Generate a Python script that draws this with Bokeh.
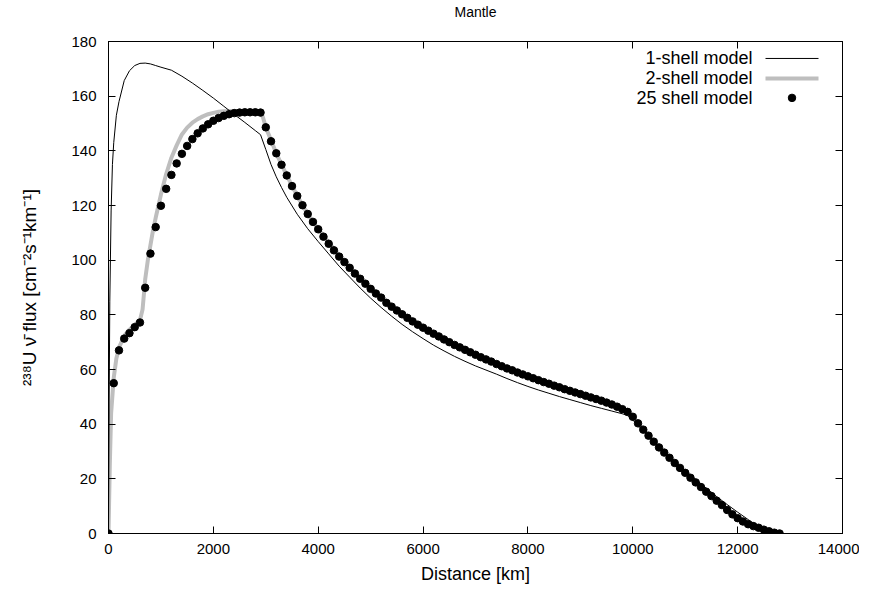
from bokeh.plotting import figure
from bokeh.models import Range1d, FixedTicker, LinearAxis
from bokeh.core.properties import value
from bokeh.embed import file_html
from bokeh.resources import INLINE

# ---------------- data ----------------
x_ticks = [0, 2000, 4000, 6000, 8000, 10000, 12000, 14000]
y_ticks = [0, 20, 40, 60, 80, 100, 120, 140, 160, 180]

# 1-shell model
dist_1 = [0, 10, 25, 50, 75, 100, 150, 200, 300, 400, 500, 600, 700, 800, 900,
          1000, 1200, 1400, 1600, 1800, 2000, 2200, 2400, 2600, 2800, 2900, 3000,
          3100, 3200, 3300, 3400, 3600, 3800, 4000, 4200, 4400, 4600, 4800, 5000,
          5200, 5400, 5600, 5800, 6000, 6200, 6400, 6600, 6800, 7000, 7200, 7400,
          7600, 7800, 8000, 8200, 8400, 8600, 8800, 9000, 9200, 9400, 9600, 9800,
          9900, 10000, 10200, 10400, 10600, 10800, 11000, 11200, 11400, 11600,
          11800, 12000, 12200, 12400, 12600, 12742]
flux_1 = [0, 40, 85, 118, 135, 143, 153, 158, 165.7, 169.3, 171.2, 172.0, 172.1,
          171.8, 171.2, 170.6, 169.5, 167.3, 164.8, 162.1, 159.3, 156.3, 153.3,
          150.4, 147.4, 145.9, 140.5, 135.0, 130.5, 126.6, 123.0, 116.8, 111.5,
          106.8, 102.3, 97.8, 93.8, 89.8, 86.1, 82.7, 79.5, 76.5, 73.8, 71.3, 68.9,
          66.8, 64.8, 63.0, 61.3, 59.8, 58.3, 56.7, 55.2, 53.8, 52.5, 51.3, 50.1,
          49.0, 47.9, 46.8, 45.8, 44.8, 43.8, 43.2, 41.5, 37.6, 33.8, 30.0, 26.4,
          23.1, 19.8, 16.6, 13.5, 10.6, 7.8, 5.1, 2.6, 0.4, 0.0]

# 2-shell model
dist_2 = [0, 25, 50, 100, 150, 200, 300, 400, 500, 600, 650, 700, 750, 800, 850,
          900, 1000, 1100, 1200, 1300, 1400, 1500, 1600, 1700, 1800, 1900, 2000,
          2100, 2200, 2300, 2900, 2950, 3000, 3200, 3400, 3600, 3800, 4000, 4500,
          5000, 5500, 6000, 6500, 7000, 7500, 8000, 8500, 9000, 9500, 9800, 9900,
          10000, 10200, 10500, 11000, 11500, 12000, 12300, 12600, 12800]
flux_2 = [0, 25, 44, 57, 64, 68, 72.3, 74.6, 76.4, 78.0, 82, 93, 100, 105.5, 111,
          115.5, 124, 131.5, 137.5, 142, 146, 148.5, 150.3, 151.6, 152.6, 153.4,
          153.9, 154.3, 154.5, 154.6, 154.6, 152, 148.6, 139.1, 131.0, 123.5, 116.8,
          111.3, 99.3, 89.5, 81.6, 75.3, 70.0, 65.4, 61.2, 57.5, 54.1, 51.0, 47.9,
          45.5, 44.5, 42.7, 38.0, 31.5, 22.2, 13.7, 5.6, 2.7, 0.8, 0.0]

# 25 shell model
dist_25 = [0, 100, 200, 300, 400, 500, 600, 700, 800, 900, 1000, 1100, 1200, 1300,
           1400, 1500, 1600, 1700, 1800, 1900, 2000, 2100, 2200, 2300, 2400, 2500,
           2600, 2700, 2800, 2900, 3000, 3100, 3200, 3300, 3400, 3500, 3600, 3700,
           3800, 3900, 4000, 4100, 4200, 4300, 4400, 4500, 4600, 4700, 4800, 4900,
           5000, 5100, 5200, 5300, 5400, 5500, 5600, 5700, 5800, 5900, 6000, 6100,
           6200, 6300, 6400, 6500, 6600, 6700, 6800, 6900, 7000, 7100, 7200, 7300,
           7400, 7500, 7600, 7700, 7800, 7900, 8000, 8100, 8200, 8300, 8400, 8500,
           8600, 8700, 8800, 8900, 9000, 9100, 9200, 9300, 9400, 9500, 9600, 9700,
           9800, 9900, 10000, 10100, 10200, 10300, 10400, 10500, 10600, 10700,
           10800, 10900, 11000, 11100, 11200, 11300, 11400, 11500, 11600, 11700,
           11800, 11900, 12000, 12100, 12200, 12300, 12400, 12500, 12600, 12700,
           12800]
flux_25 = [0, 55.0, 67.0, 71.3, 73.3, 75.5, 77.2, 89.9, 102.4, 112.1, 119.9, 126.1,
           131.2, 135.4, 138.9, 141.8, 144.3, 146.4, 148.2, 149.7, 151.0, 152.0,
           152.8, 153.4, 153.8, 154.0, 154.1, 154.1, 154.1, 154.0, 148.6, 143.5,
           139.1, 134.9, 131.0, 127.1, 123.5, 120.1, 116.9, 114.0, 111.3, 108.6,
           106.0, 103.6, 101.3, 99.3, 97.2, 95.1, 93.2, 91.4, 89.5, 87.8, 86.3, 84.4,
           83.0, 81.6, 80.2, 78.9, 77.6, 76.4, 75.3, 74.2, 73.1, 72.1, 71.0, 70.0,
           69.0, 68.1, 67.2, 66.3, 65.4, 64.5, 63.7, 62.9, 62.0, 61.2, 60.4, 59.7,
           58.9, 58.2, 57.5, 56.8, 56.1, 55.4, 54.8, 54.1, 53.5, 52.8, 52.2, 51.6,
           51.0, 50.4, 49.8, 49.2, 48.6, 47.9, 47.2, 46.4, 45.5, 44.5, 42.7, 40.3,
           38.0, 35.8, 33.6, 31.5, 29.6, 27.7, 25.8, 24.0, 22.2, 20.4, 18.7, 17.0,
           15.3, 13.7, 12.0, 10.4, 8.6, 7.0, 5.6, 4.4, 3.4, 2.7, 2.1, 1.4, 0.8, 0.3,
           0.0]

series_names = ["1-shell model", "2-shell model", "25 shell model"]
title_text = "Mantle"

# ---------------- figure ----------------
FONT = "Liberation Sans"
TICK_FS = "15px"
LABEL_FS = "18px"
X0, X1, Y0, Y1 = 0, 14000, 0, 180

W, H = 859, 590
BL, BR, BT, BB = 108, 17, 40, 57

p = figure(width=W, height=H, x_range=Range1d(X0, X1), y_range=Range1d(Y0, Y1),
           output_backend="svg", toolbar_location=None,
           min_border_left=BL, min_border_right=BR, min_border_top=BT,
           min_border_bottom=BB)
p.background_fill_color = "white"
p.border_fill_color = "white"
p.outline_line_color = "black"
p.outline_line_width = 1
p.grid.visible = False


def style_axis(ax, ticks, labels=True):
    ax.ticker = FixedTicker(ticks=ticks)
    ax.axis_line_color = "black"
    ax.major_tick_line_color = "black"
    ax.major_tick_in = 7
    ax.major_tick_out = 0
    ax.minor_tick_line_color = None
    ax.major_label_text_font = FONT
    ax.major_label_text_font_size = TICK_FS
    ax.major_label_text_color = "black"
    ax.axis_label_text_font = FONT
    ax.axis_label_text_font_size = LABEL_FS
    ax.axis_label_text_font_style = "normal"
    ax.axis_label_text_color = "black"
    if not labels:
        ax.major_label_overrides = {t: "" for t in ticks}
        ax.major_label_standoff = 0


for ax in p.xaxis:
    style_axis(ax, x_ticks)
    ax.major_label_standoff = 10
    ax.axis_label = "Distance [km]"
    ax.axis_label_standoff = 7
for ax in p.yaxis:
    style_axis(ax, y_ticks)
    ax.major_label_standoff = 12
    ax.axis_label = "\u00b2\u00b3\u2078U \u03bd\u0304 flux [cm\u207b\u00b2s\u207b\u00b9km\u207b\u00b9]"
    ax.axis_label_text_font_size = "19px"
    ax.axis_label_standoff = 28

# mirrored ticks on top (carrying the title as its label) and on the right
top_ax = LinearAxis()
style_axis(top_ax, x_ticks, labels=False)
top_ax.axis_label = title_text
top_ax.axis_label_text_font_size = "14px"
top_ax.axis_label_standoff = 22
p.add_layout(top_ax, "above")
right_ax = LinearAxis()
style_axis(right_ax, y_ticks, labels=False)
p.add_layout(right_ax, "right")

frame_w = W - BL - BR
frame_h = H - BT - BB


def dx(px):  # pixel offset from frame left -> data x
    return X0 + (px / frame_w) * (X1 - X0)


def dy(py):  # pixel offset from frame top -> data y
    return Y1 - (py / frame_h) * (Y1 - Y0)


# data
p.line(dist_2, flux_2, line_color="#bebebe", line_width=4)
p.line(dist_1, flux_1, line_color="black", line_width=1)
p.scatter(dist_25, flux_25, marker="circle", size=7.5, fill_color="black",
          line_color="black")

# ---------------- legend (drawn manually: text left, sample right) --------
rows = [17, 37, 56.5]
text_x = dx(644)
seg_x0, seg_x1 = dx(657), dx(710)
p.text(x=[text_x] * 3, y=[dy(r) for r in rows], text=series_names,
       text_align="right", text_baseline="middle", text_font=value(FONT),
       text_font_size=value(LABEL_FS), text_color="black")
p.segment(x0=[seg_x0], y0=[dy(rows[0])], x1=[seg_x1], y1=[dy(rows[0])],
          line_color="black", line_width=1)
p.segment(x0=[seg_x0], y0=[dy(rows[1])], x1=[seg_x1], y1=[dy(rows[1])],
          line_color="#bebebe", line_width=4)
p.scatter(x=[(seg_x0 + seg_x1) / 2], y=[dy(rows[2])], marker="circle", size=7.5,
          fill_color="black", line_color="black")

open("out.html", "w").write(file_html(p, INLINE))
